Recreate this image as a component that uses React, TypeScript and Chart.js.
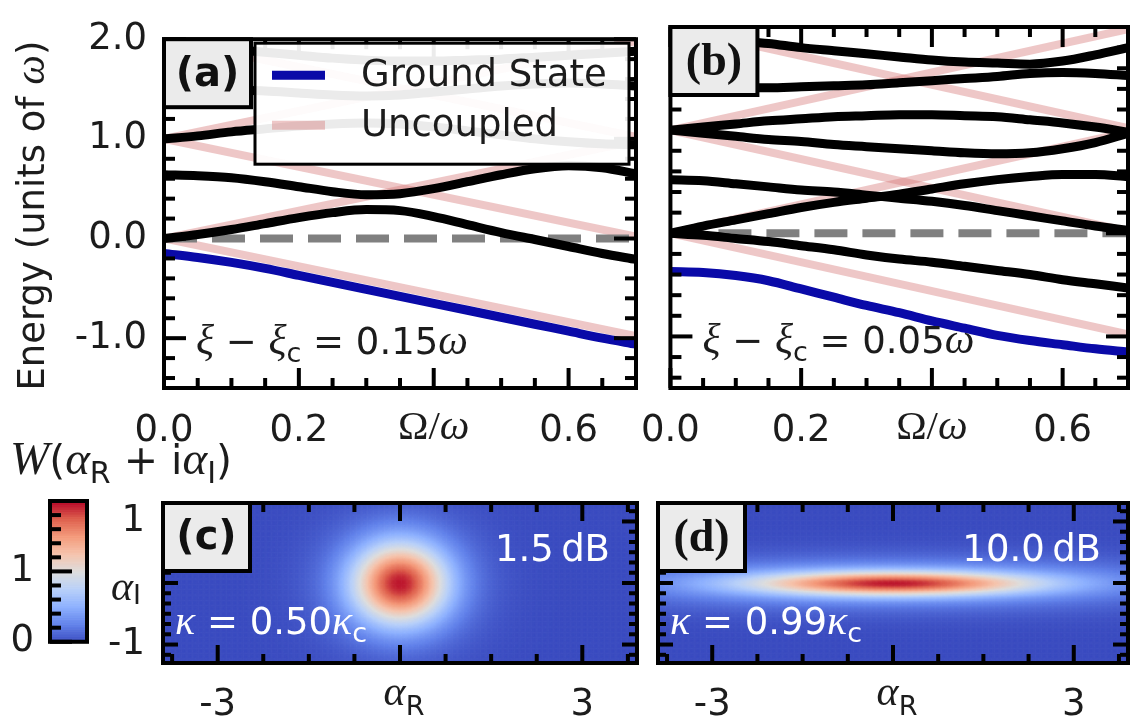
import React, { useEffect, useRef } from 'react';
import { Chart, registerables } from 'chart.js';

Chart.register(...registerables);

// ---------- fonts & colours ----------
const SANS = '"DejaVu Sans", sans-serif';
const SERIF = '"Liberation Serif", serif';
const INK = '#1c1c1c';
const TXT = `37px ${SANS}`;
const MATH = `italic 42px ${SERIF}`;
const SUB = `27px ${SANS}`;
const PINK = 'rgba(214, 122, 122, 0.42)';
const BLUE = '#0a0aa8';
const BOX_FILL = '#ebebeb';

// ---------- spectra: energies (units of ω) vs Ω/ω ----------
const OMEGA = [0, 0.05, 0.1, 0.15, 0.2, 0.25, 0.3, 0.35, 0.4, 0.45, 0.5, 0.55, 0.6, 0.65, 0.7];

// panel (a): ξ − ξc = 0.15ω
const GROUND_A = [-0.15, -0.19, -0.24, -0.3, -0.37, -0.44, -0.51, -0.58, -0.65, -0.72, -0.79, -0.86, -0.93, -1.0, -1.06];
const LEVEL_A1 = [0.0, 0.04, 0.09, 0.15, 0.21, 0.26, 0.29, 0.28, 0.22, 0.14, 0.06, -0.01, -0.08, -0.15, -0.21];
const LEVEL_A2 = [0.64, 0.63, 0.61, 0.57, 0.52, 0.47, 0.44, 0.45, 0.5, 0.57, 0.64, 0.7, 0.73, 0.71, 0.65];
const LEVEL_A3 = [1.0, 1.03, 1.07, 1.1, 1.13, 1.15, 1.16, 1.15, 1.12, 1.08, 1.04, 1.0, 0.97, 0.95, 0.94];
const LEVEL_A4 = [1.5, 1.5, 1.49, 1.48, 1.46, 1.44, 1.43, 1.44, 1.47, 1.5, 1.53, 1.55, 1.56, 1.55, 1.53];
const LEVEL_A5 = [1.95, 1.93, 1.9, 1.87, 1.84, 1.81, 1.79, 1.78, 1.78, 1.79, 1.8, 1.82, 1.84, 1.86, 1.88];

// panel (b): ξ − ξc = 0.05ω
const GROUND_B = [-0.37, -0.38, -0.41, -0.46, -0.54, -0.62, -0.7, -0.77, -0.85, -0.92, -0.99, -1.04, -1.08, -1.12, -1.15];
const LEVEL_B1 = [0.0, -0.02, -0.05, -0.08, -0.12, -0.16, -0.21, -0.25, -0.28, -0.32, -0.36, -0.4, -0.45, -0.49, -0.53];
const LEVEL_B2 = [0.0, 0.07, 0.13, 0.19, 0.25, 0.3, 0.34, 0.38, 0.43, 0.48, 0.52, 0.55, 0.57, 0.57, 0.55];
const LEVEL_B3 = [0.52, 0.51, 0.48, 0.45, 0.42, 0.4, 0.37, 0.34, 0.31, 0.27, 0.22, 0.17, 0.12, 0.07, 0.03];
const LEVEL_B4 = [1.0, 1.03, 1.06, 1.09, 1.11, 1.13, 1.14, 1.15, 1.15, 1.14, 1.13, 1.1, 1.07, 1.03, 0.98];
const LEVEL_B5 = [1.0, 0.97, 0.94, 0.91, 0.89, 0.86, 0.84, 0.82, 0.8, 0.78, 0.77, 0.78, 0.82, 0.88, 0.97];
const LEVEL_B6 = [1.4, 1.4, 1.41, 1.41, 1.42, 1.43, 1.44, 1.46, 1.48, 1.5, 1.52, 1.55, 1.56, 1.55, 1.53];
const LEVEL_B7 = [1.92, 1.9, 1.87, 1.84, 1.8, 1.77, 1.74, 1.71, 1.68, 1.66, 1.65, 1.64, 1.67, 1.73, 1.8];

// uncoupled levels: energy at Ω = 0 and at Ω = 0.7ω
const UNCOUPLED_OMEGA = [0, 0.7];
const UNCOUPLED_0_DOWN = [0, -0.98];
const UNCOUPLED_0_UP = [0, 0.98];
const UNCOUPLED_1_DOWN = [1, 0.02];
const UNCOUPLED_1_UP = [1, 1.98];
const UNCOUPLED_2_DOWN = [2, 1.02];
const UNCOUPLED = [UNCOUPLED_0_DOWN, UNCOUPLED_0_UP, UNCOUPLED_1_DOWN, UNCOUPLED_1_UP, UNCOUPLED_2_DOWN];

// spectrum axes
const OMEGA_TICKS = [0, 0.2, 0.4, 0.6];
const OMEGA_LABELS = ['0.0', '0.2', '', '0.6'];
const OMEGA_MINOR = [0.05, 0.1, 0.15, 0.25, 0.3, 0.35, 0.45, 0.5, 0.55, 0.65];
const ENERGY_TICKS = [-1, 0, 1, 2];
const ENERGY_LABELS = ['-1.0', '0.0', '1.0', '2.0'];
const ENERGY_MINOR = [-1.4, -1.2, -0.8, -0.6, -0.4, -0.2, 0.2, 0.4, 0.6, 0.8, 1.2, 1.4, 1.6, 1.8];

// ---------- Wigner functions: sum of Gaussian components ----------
const WIGNER_C_AMP = [1.45, 0.5];
const WIGNER_C_SR = [0.52, 0.8];
const WIGNER_C_SI = [0.44, 0.66];
const WIGNER_D_AMP = [1.45, 0.5];
const WIGNER_D_SR = [1.6, 3.2];
const WIGNER_D_SI = [0.13, 0.28];

const AR_TICKS = [-3, 0, 3];
const AR_LABELS = ['-3', '', '3'];
const AR_MINOR = [-3.75, -2.25, -1.5, -0.75, 0.75, 1.5, 2.25, 3.75];
const AI_TICKS = [-1, 0, 1];
const AI_LABELS = ['-1', '', '1'];
const AI_MINOR = [-7 / 6, -5 / 6, -4 / 6, -3 / 6, -2 / 6, -1 / 6, 1 / 6, 2 / 6, 3 / 6, 4 / 6, 5 / 6, 7 / 6];

const CBAR_TICKS = [0, 1];
const CBAR_LABELS = ['0', '1'];
const CBAR_MINOR = [0.2, 0.4, 0.6, 0.8, 1.2, 1.4, 1.6, 1.8];
const CBAR_MAX = 2;

// coolwarm colour map anchors (every 1/8)
const COOLWARM = [
  [59, 76, 192], [98, 130, 234], [141, 176, 254], [184, 208, 249], [221, 221, 221],
  [245, 196, 173], [244, 154, 123], [222, 96, 77], [180, 4, 38],
];

function coolwarm(t: number): string {
  const u = Math.max(0, Math.min(1, t)) * (COOLWARM.length - 1);
  const i = Math.min(COOLWARM.length - 2, Math.floor(u));
  const f = u - i;
  const a = COOLWARM[i], b = COOLWARM[i + 1];
  const c = a.map((v, k) => Math.round(v + (b[k] - v) * f));
  return `rgb(${c[0]},${c[1]},${c[2]})`;
}

function wigner(amp: number[], sr: number[], si: number[], ar: number, ai: number): number {
  let w = 0;
  for (let k = 0; k < amp.length; k++) {
    w += amp[k] * Math.exp(-(ar * ar) / (2 * sr[k] * sr[k]) - (ai * ai) / (2 * si[k] * si[k]));
  }
  return w;
}

// ---------- drawing helpers ----------
type Run = { t: string; f: string; dy?: number };

function drawRuns(ctx: CanvasRenderingContext2D, runs: Run[], x: number, y: number, color: string, align = 'left') {
  ctx.save();
  ctx.textBaseline = 'alphabetic';
  ctx.textAlign = 'left';
  let total = 0;
  for (const r of runs) {
    ctx.font = r.f;
    total += ctx.measureText(r.t).width;
  }
  let cx = align === 'center' ? x - total / 2 : align === 'right' ? x - total : x;
  ctx.fillStyle = color;
  for (const r of runs) {
    ctx.font = r.f;
    ctx.fillText(r.t, cx, y + (r.dy || 0));
    cx += ctx.measureText(r.t).width;
  }
  ctx.restore();
}

type FrameSpec = {
  xMajor: number[]; xMinor: number[]; yMajor: number[]; yMinor: number[];
  xMajorLen: number; xMinorLen: number; yMajorLen: number; yMinorLen: number;
};

function drawFrame(chart: any, spec: FrameSpec) {
  const { ctx, chartArea: a, scales } = chart;
  const x = scales.x, y = scales.y;
  ctx.save();
  ctx.strokeStyle = '#000';
  ctx.lineWidth = 4;
  ctx.lineCap = 'butt';
  const seg = (x0: number, y0: number, x1: number, y1: number) => {
    ctx.beginPath();
    ctx.moveTo(x0, y0);
    ctx.lineTo(x1, y1);
    ctx.stroke();
  };
  const xt = (vals: number[], len: number) => vals.forEach((v) => {
    const p = x.getPixelForValue(v);
    seg(p, a.bottom, p, a.bottom - len);
    seg(p, a.top, p, a.top + len);
  });
  const yt = (vals: number[], len: number) => vals.forEach((v) => {
    const p = y.getPixelForValue(v);
    seg(a.left, p, a.left + len, p);
    seg(a.right, p, a.right - len, p);
  });
  xt(spec.xMinor, spec.xMinorLen);
  xt(spec.xMajor, spec.xMajorLen);
  yt(spec.yMinor, spec.yMinorLen);
  yt(spec.yMajor, spec.yMajorLen);
  ctx.strokeRect(a.left, a.top, a.right - a.left, a.bottom - a.top);
  ctx.restore();
}

function labelBox(ctx: CanvasRenderingContext2D, x: number, y: number, text: string, font: string) {
  const w = 87, h = 68;
  ctx.save();
  ctx.fillStyle = BOX_FILL;
  ctx.fillRect(x, y, w, h);
  ctx.strokeStyle = '#000';
  ctx.lineWidth = 4;
  ctx.strokeRect(x, y, w, h);
  ctx.fillStyle = '#111';
  ctx.font = font;
  ctx.textAlign = 'center';
  ctx.textBaseline = 'middle';
  ctx.fillText(text, x + w / 2, y + h / 2 + 2);
  ctx.restore();
}

const tickFont = { family: '"DejaVu Sans"', size: 37 };

function fixedTicks(values: number[]) {
  return (s: any) => { s.ticks = values.map((value) => ({ value })); };
}

// ---------- spectrum panels ----------
type SpectrumCfg = {
  ground: number[];
  levels: number[][];
  withYAxis: boolean;
  shift: string;
  label: string;
  labelFont: string;
  legend: boolean;
  padding: { left: number; right: number; top: number; bottom: number };
};

function makeSpectrum(canvas: HTMLCanvasElement, cfg: SpectrumCfg) {
  const line = (xs: number[], ys: number[]) => xs.map((x, i) => ({ x, y: ys[i] }));
  const datasets: any[] = [];
  UNCOUPLED.forEach((u) => datasets.push({
    data: line(UNCOUPLED_OMEGA, u), borderColor: PINK, borderWidth: 8, order: 3,
  }));
  datasets.push({
    data: [{ x: 0, y: 0 }, { x: 0.7, y: 0 }], borderColor: '#808080', borderWidth: 8,
    borderDash: [33, 15], borderCapStyle: 'butt', order: 2,
  });
  cfg.levels.forEach((lv) => datasets.push({
    data: line(OMEGA, lv), borderColor: '#000', borderWidth: 9, order: 1,
    cubicInterpolationMode: 'monotone', borderCapStyle: 'round',
  }));
  datasets.push({
    data: line(OMEGA, cfg.ground), borderColor: BLUE, borderWidth: 9, order: 0,
    cubicInterpolationMode: 'monotone', borderCapStyle: 'round',
  });
  datasets.forEach((d) => { d.showLine = true; d.pointRadius = 0; d.clip = 0; });

  const decor = {
    id: 'spectrumDecor',
    afterDatasetsDraw(chart: any) {
      const { ctx, chartArea: a, scales } = chart;
      const x = scales.x, y = scales.y;
      drawFrame(chart, {
        xMajor: OMEGA_TICKS, xMinor: OMEGA_MINOR, yMajor: ENERGY_TICKS, yMinor: ENERGY_MINOR,
        xMajorLen: 20, xMinorLen: 10, yMajorLen: 22, yMinorLen: 11,
      });
      labelBox(ctx, a.left, a.top, cfg.label, cfg.labelFont);
      if (cfg.legend) {
        const lx = a.left + 91, ly = a.top + 4, lw = 374, lh = 121;
        ctx.save();
        ctx.fillStyle = 'rgba(255,255,255,0.92)';
        ctx.fillRect(lx, ly, lw, lh);
        ctx.strokeStyle = '#000';
        ctx.lineWidth = 3;
        ctx.strokeRect(lx, ly, lw, lh);
        const rows = [
          { c: BLUE, t: 'Ground State', yy: ly + 32 },
          { c: PINK, t: 'Uncoupled', yy: ly + 82 },
        ];
        rows.forEach((r) => {
          ctx.strokeStyle = r.c;
          ctx.lineWidth = 9;
          ctx.beginPath();
          ctx.moveTo(lx + 17, r.yy);
          ctx.lineTo(lx + 70, r.yy);
          ctx.stroke();
          ctx.fillStyle = INK;
          ctx.font = TXT;
          ctx.textBaseline = 'middle';
          ctx.textAlign = 'left';
          ctx.fillText(r.t, lx + 106, r.yy + 1);
        });
        ctx.restore();
      }
      drawRuns(ctx, [
        { t: 'ξ', f: MATH }, { t: ' − ', f: TXT }, { t: 'ξ', f: MATH }, { t: 'c', f: SUB, dy: 8 },
        { t: ' = ' + cfg.shift, f: TXT }, { t: 'ω', f: MATH },
      ], a.left + 32, y.getPixelForValue(-1.16), INK);
      drawRuns(ctx, [
        { t: 'Ω/', f: `41px ${SERIF}` }, { t: 'ω', f: MATH },
      ], x.getPixelForValue(0.4), a.bottom + 51, INK, 'center');
      if (cfg.withYAxis) {
        ctx.save();
        ctx.translate(44, (a.top + a.bottom) / 2 + 2);
        ctx.rotate(-Math.PI / 2);
        drawRuns(ctx, [
          { t: 'Energy (units of ', f: TXT }, { t: 'ω', f: MATH }, { t: ')', f: TXT },
        ], 0, 0, INK, 'center');
        ctx.restore();
      }
    },
  };

  return new Chart(canvas, {
    type: 'scatter',
    data: { datasets },
    options: {
      responsive: false,
      animation: false,
      events: [],
      layout: { padding: cfg.padding },
      plugins: { legend: { display: false }, tooltip: { enabled: false } },
      scales: {
        x: {
          type: 'linear', min: 0, max: 0.7,
          grid: { display: false, drawTicks: false }, border: { display: false },
          afterBuildTicks: fixedTicks(OMEGA_TICKS),
          afterFit: (s: any) => { s.height = 57; },
          ticks: {
            font: tickFont, color: INK, padding: 21, maxRotation: 0, autoSkip: false,
            callback: (_v: any, i: number) => OMEGA_LABELS[i],
          },
        },
        y: {
          type: 'linear', min: -1.5, max: 2, display: cfg.withYAxis,
          grid: { display: false, drawTicks: false }, border: { display: false },
          afterBuildTicks: fixedTicks(ENERGY_TICKS),
          afterFit: (s: any) => { s.width = cfg.withYAxis ? 164 : 0; },
          ticks: {
            font: tickFont, color: INK, padding: 17, autoSkip: false,
            callback: (_v: any, i: number) => ENERGY_LABELS[i],
          },
        },
      },
    } as any,
    plugins: [decor],
  });
}

// ---------- Wigner panels ----------
type WignerCfg = {
  amp: number[]; sr: number[]; si: number[];
  withYAxis: boolean; label: string; labelFont: string;
  db: string; kappa: string;
  padding: { left: number; right: number; top: number; bottom: number };
};

const AR_MIN = -3.9, AR_MAX = 3.9, AI_MIN = -1.3, AI_MAX = 1.3;
const AR_STEP = 0.02, AI_STEP = 0.02;

function makeWigner(canvas: HTMLCanvasElement, cfg: WignerCfg) {
  const image = {
    id: 'wignerImage',
    beforeDatasetsDraw(chart: any) {
      const { ctx, chartArea: a, scales } = chart;
      const x = scales.x, y = scales.y;
      ctx.save();
      ctx.beginPath();
      ctx.rect(a.left, a.top, a.right - a.left, a.bottom - a.top);
      ctx.clip();
      for (let ar = AR_MIN; ar < AR_MAX; ar += AR_STEP) {
        const x0 = x.getPixelForValue(ar), x1 = x.getPixelForValue(ar + AR_STEP);
        for (let ai = AI_MIN; ai < AI_MAX; ai += AI_STEP) {
          const yT = y.getPixelForValue(ai + AI_STEP), yB = y.getPixelForValue(ai);
          const v = wigner(cfg.amp, cfg.sr, cfg.si, ar + AR_STEP / 2, ai + AI_STEP / 2);
          ctx.fillStyle = coolwarm(v / CBAR_MAX);
          ctx.fillRect(x0, yT, x1 - x0 + 0.6, yB - yT + 0.6);
        }
      }
      ctx.restore();
    },
    afterDatasetsDraw(chart: any) {
      const { ctx, chartArea: a, scales } = chart;
      const x = scales.x, y = scales.y;
      drawFrame(chart, {
        xMajor: AR_TICKS, xMinor: AR_MINOR, yMajor: AI_TICKS, yMinor: AI_MINOR,
        xMajorLen: 18, xMinorLen: 9, yMajorLen: 15, yMinorLen: 8,
      });
      labelBox(ctx, a.left, a.top, cfg.label, cfg.labelFont);
      drawRuns(ctx, [{ t: cfg.db, f: TXT }], a.right - 27, a.top + 58, '#fff', 'right');
      drawRuns(ctx, [
        { t: 'κ', f: MATH }, { t: ' = ' + cfg.kappa, f: TXT }, { t: 'κ', f: MATH }, { t: 'c', f: SUB, dy: 8 },
      ], a.left + 12, a.top + 131, '#fff');
      drawRuns(ctx, [
        { t: 'α', f: MATH }, { t: 'R', f: SUB, dy: 10 },
      ], x.getPixelForValue(0) + 4, a.bottom + 42, INK, 'center');
      if (cfg.withYAxis) {
        drawRuns(ctx, [
          { t: 'α', f: MATH }, { t: 'I', f: SUB, dy: 4 },
        ], a.left - 37, y.getPixelForValue(0) + 17, INK, 'center');
      }
    },
  };

  return new Chart(canvas, {
    type: 'scatter',
    data: { datasets: [] },
    options: {
      responsive: false,
      animation: false,
      events: [],
      layout: { padding: cfg.padding },
      plugins: { legend: { display: false }, tooltip: { enabled: false } },
      scales: {
        x: {
          type: 'linear', min: AR_MIN, max: AR_MAX,
          grid: { display: false, drawTicks: false }, border: { display: false },
          afterBuildTicks: fixedTicks(AR_TICKS),
          afterFit: (s: any) => { s.height = 55; },
          ticks: {
            font: tickFont, color: INK, padding: 20, maxRotation: 0, autoSkip: false,
            callback: (_v: any, i: number) => AR_LABELS[i],
          },
        },
        y: {
          type: 'linear', min: AI_MIN, max: AI_MAX, display: cfg.withYAxis,
          grid: { display: false, drawTicks: false }, border: { display: false },
          afterBuildTicks: fixedTicks(AI_TICKS),
          afterFit: (s: any) => { s.width = cfg.withYAxis ? 163 : 0; },
          ticks: {
            font: tickFont, color: INK, padding: 18, autoSkip: false,
            callback: (_v: any, i: number) => AI_LABELS[i],
          },
        },
      },
    } as any,
    plugins: [image],
  });
}

// ---------- colour bar ----------
function makeColorbar(canvas: HTMLCanvasElement) {
  const bar = {
    id: 'colorbar',
    beforeDatasetsDraw(chart: any) {
      const { ctx, chartArea: a, scales } = chart;
      const y = scales.y;
      const step = 0.01;
      ctx.save();
      for (let v = 0; v < CBAR_MAX; v += step) {
        const yB = y.getPixelForValue(v), yT = y.getPixelForValue(v + step);
        ctx.fillStyle = coolwarm((v + step / 2) / CBAR_MAX);
        ctx.fillRect(a.left, yT, a.right - a.left, yB - yT + 0.6);
      }
      ctx.strokeStyle = '#000';
      ctx.lineWidth = 4;
      const tick = (v: number, len: number) => {
        const p = y.getPixelForValue(v);
        ctx.beginPath();
        ctx.moveTo(a.left, p);
        ctx.lineTo(a.left + len, p);
        ctx.stroke();
      };
      CBAR_MINOR.forEach((v) => tick(v, 11));
      CBAR_TICKS.forEach((v) => tick(v, 22));
      ctx.strokeRect(a.left, a.top, a.right - a.left, a.bottom - a.top);
      ctx.restore();
      const big = `italic 47px ${SERIF}`;
      const bigTxt = `41px ${SANS}`;
      const bigSub = `30px ${SANS}`;
      drawRuns(ctx, [
        { t: 'W', f: big }, { t: '(', f: bigTxt }, { t: 'α', f: big }, { t: 'R', f: bigSub, dy: 9 },
        { t: ' + i', f: bigTxt }, { t: 'α', f: big }, { t: 'I', f: bigSub, dy: 9 }, { t: ')', f: bigTxt },
      ], 10, 34, INK);
    },
  };
  return new Chart(canvas, {
    type: 'scatter',
    data: { datasets: [] },
    options: {
      responsive: false,
      animation: false,
      events: [],
      layout: { padding: { left: 0, right: 163, top: 61, bottom: 17 } },
      plugins: { legend: { display: false }, tooltip: { enabled: false } },
      scales: {
        x: { type: 'linear', min: 0, max: 1, display: false },
        y: {
          type: 'linear', min: 0, max: CBAR_MAX,
          grid: { display: false, drawTicks: false }, border: { display: false },
          afterBuildTicks: fixedTicks(CBAR_TICKS),
          afterFit: (s: any) => { s.width = 50; },
          ticks: {
            font: tickFont, color: INK, padding: 16, autoSkip: false,
            callback: (_v: any, i: number) => CBAR_LABELS[i],
          },
        },
      },
    } as any,
    plugins: [bar],
  });
}

// ---------- React wrappers ----------
function Panel(props: { left: number; top: number; width: number; height: number; make: (c: HTMLCanvasElement) => Chart }) {
  const ref = useRef<HTMLCanvasElement | null>(null);
  const { left, top, width, height, make } = props;
  useEffect(() => {
    if (!ref.current) return;
    const chart = make(ref.current);
    return () => chart.destroy();
  }, []);
  return (
    <canvas
      ref={ref}
      width={width}
      height={height}
      style={{ position: 'absolute', left, top, width, height }}
    />
  );
}

export default function App() {
  return (
    <div style={{ position: 'absolute', left: 0, top: 0, width: 1130, height: 718, background: '#fff', overflow: 'hidden' }}>
      <Panel left={0} top={0} width={646} height={445} make={(c) => makeSpectrum(c, {
        ground: GROUND_A, levels: [LEVEL_A5, LEVEL_A4, LEVEL_A3, LEVEL_A2, LEVEL_A1],
        withYAxis: true, shift: '0.15', label: '(a)', labelFont: `bold 40px ${SANS}`, legend: true,
        padding: { left: 0, right: 10, top: 27, bottom: 0 },
      })} />
      <Panel left={620} top={0} width={510} height={445} make={(c) => makeSpectrum(c, {
        ground: GROUND_B, levels: [LEVEL_B7, LEVEL_B6, LEVEL_B5, LEVEL_B4, LEVEL_B3, LEVEL_B2, LEVEL_B1],
        withYAxis: false, shift: '0.05', label: '(b)', labelFont: `bold 46px ${SERIF}`, legend: false,
        padding: { left: 38, right: 2, top: 27, bottom: 0 },
      })} />
      <Panel left={0} top={440} width={250} height={240} make={makeColorbar} />
      <Panel left={0} top={440} width={646} height={278} make={(c) => makeWigner(c, {
        amp: WIGNER_C_AMP, sr: WIGNER_C_SR, si: WIGNER_C_SI,
        withYAxis: true, label: '(c)', labelFont: `bold 40px ${SANS}`,
        db: '1.5\u2009dB', kappa: '0.50',
        padding: { left: 0, right: 9, top: 63, bottom: 0 },
      })} />
      <Panel left={620} top={440} width={510} height={278} make={(c) => makeWigner(c, {
        amp: WIGNER_D_AMP, sr: WIGNER_D_SR, si: WIGNER_D_SI,
        withYAxis: false, label: '(d)', labelFont: `bold 46px ${SERIF}`,
        db: '10.0\u2009dB', kappa: '0.99',
        padding: { left: 38, right: 2, top: 63, bottom: 0 },
      })} />
    </div>
  );
}
